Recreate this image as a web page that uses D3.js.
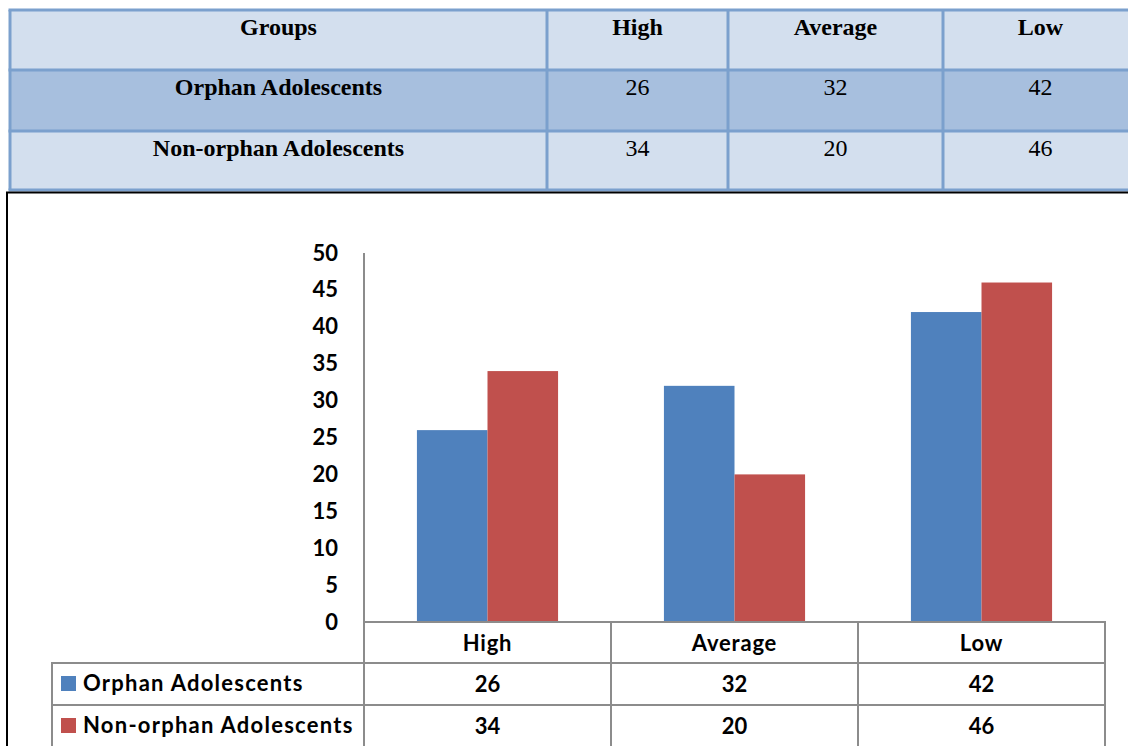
<!DOCTYPE html>
<html>
<head>
<meta charset="utf-8">
<script src="https://cdn.jsdelivr.net/npm/d3@7"></script>
<style>
  html, body { margin: 0; padding: 0; background: #fff; }
  svg { display: block; }
</style>
</head>
<body>
<svg id="chart" width="1128" height="746"></svg>
<script>
// ---- data ----
const categories = ["High", "Average", "Low"];
const seriesNames = ["Orphan Adolescents", "Non-orphan Adolescents"];
const orphanValues = [26, 32, 42];
const nonOrphanValues = [34, 20, 46];
const seriesValues = [orphanValues, nonOrphanValues];
const yTickValues = [0, 5, 10, 15, 20, 25, 30, 35, 40, 45, 50];
const tableHeader = ["Groups", ...categories];

// ---- styling ----
const seriesColors = ["#4f81bd", "#c0504d"];
const serif = "'Liberation Serif', 'Times New Roman', serif";
const sans = "Lato, 'Noto Sans', sans-serif";
const gridGray = "#8c8c8c";

const svg = d3.select("#chart");

// ===== summary table above the chart =====
const colEdges = [10, 547, 728, 943, 1138];
const rowEdges = [10, 70, 131, 190];
const rowFills = ["#d3dfee", "#a7bfde", "#d3dfee"];
const tableRows = [tableHeader].concat(
  seriesNames.map((name, i) => [name, ...seriesValues[i].map(String)])
);

const topTable = svg.append("g").attr("class", "summary-table");
topTable.selectAll("rect.row")
  .data(rowFills)
  .join("rect")
  .attr("class", "row")
  .attr("x", colEdges[0])
  .attr("y", (d, i) => rowEdges[i])
  .attr("width", colEdges[colEdges.length - 1] - colEdges[0])
  .attr("height", (d, i) => rowEdges[i + 1] - rowEdges[i])
  .attr("fill", d => d);

const tBorder = "#7ba0cd";
topTable.selectAll("line.h")
  .data(rowEdges)
  .join("line")
  .attr("class", "h")
  .attr("x1", colEdges[0] - 1.5).attr("x2", 1140)
  .attr("y1", d => d).attr("y2", d => d)
  .attr("stroke", tBorder).attr("stroke-width", 3);
topTable.selectAll("line.v")
  .data(colEdges)
  .join("line")
  .attr("class", "v")
  .attr("y1", rowEdges[0]).attr("y2", rowEdges[rowEdges.length - 1])
  .attr("x1", d => d).attr("x2", d => d)
  .attr("stroke", tBorder).attr("stroke-width", 3);

tableRows.forEach((row, r) => {
  row.forEach((txt, c) => {
    topTable.append("text")
      .attr("x", (colEdges[c] + colEdges[c + 1]) / 2)
      .attr("y", rowEdges[r] + 25)
      .attr("text-anchor", "middle")
      .attr("font-family", serif)
      .attr("font-size", 24)
      .attr("font-weight", (r === 0 || c === 0) ? "bold" : "normal")
      .attr("fill", "#000")
      .text(txt);
  });
});

// ===== chart frame =====
svg.append("path")
  .attr("d", "M7,746 V192.5 H1130")
  .attr("fill", "none")
  .attr("stroke", "#000")
  .attr("stroke-width", 2);

// ===== bar chart =====
const plotLeft = 364, plotRight = 1105, plotTop = 253, plotBottom = 622;
const y = d3.scaleLinear().domain([0, 50]).range([plotBottom, plotTop]);
const x0 = d3.scaleBand().domain(categories).range([plotLeft, plotRight]).padding(0);
const x1 = d3.scaleBand().domain(seriesNames).range([0, x0.bandwidth()])
  .paddingInner(0).paddingOuter(0.75);

const barData = [];
categories.forEach((cat, ci) => {
  seriesNames.forEach((s, si) => {
    barData.push({ cat, series: s, si, value: seriesValues[si][ci] });
  });
});

svg.append("g").attr("class", "bars")
  .selectAll("rect")
  .data(barData)
  .join("rect")
  .attr("x", d => x0(d.cat) + x1(d.series))
  .attr("y", d => y(d.value))
  .attr("width", x1.bandwidth())
  .attr("height", d => y(0) - y(d.value))
  .attr("fill", d => seriesColors[d.si]);

// y axis
const yAxis = svg.append("g")
  .attr("transform", `translate(${plotLeft},0)`)
  .call(d3.axisLeft(y).tickValues(yTickValues).tickSize(0).tickPadding(26));
yAxis.select(".domain").attr("stroke", gridGray).attr("stroke-width", 2)
  .attr("d", `M0,${plotTop}V746`);
yAxis.selectAll("text")
  .attr("font-family", sans)
  .attr("font-size", 22)
  .attr("font-weight", "bold")
  .attr("fill", "#000");

// ===== data table under the axis =====
const rowLines = [plotBottom, 663, 705];
const dt = svg.append("g").attr("class", "data-table");
const legendLeft = 52;

dt.selectAll("line.h")
  .data(rowLines)
  .join("line")
  .attr("class", "h")
  .attr("x1", (d, i) => i === 0 ? plotLeft : legendLeft)
  .attr("x2", plotRight + 1)
  .attr("y1", d => d).attr("y2", d => d)
  .attr("stroke", gridGray).attr("stroke-width", 2);

const vLines = categories.map(c => x0(c) + x0.bandwidth());
dt.selectAll("line.v")
  .data(vLines)
  .join("line")
  .attr("class", "v")
  .attr("x1", d => d).attr("x2", d => d)
  .attr("y1", plotBottom - 1).attr("y2", 746)
  .attr("stroke", gridGray).attr("stroke-width", 2);
dt.append("line")
  .attr("x1", legendLeft).attr("x2", legendLeft)
  .attr("y1", 662).attr("y2", 746)
  .attr("stroke", gridGray).attr("stroke-width", 2);

const cellText = (sel) => sel
  .attr("font-family", sans)
  .attr("font-size", 22)
  .attr("font-weight", "bold")
  .attr("fill", "#000");

// category labels
dt.selectAll("text.cat")
  .data(categories)
  .join("text")
  .attr("class", "cat")
  .attr("x", d => x0(d) + x0.bandwidth() / 2)
  .attr("y", 651)
  .attr("text-anchor", "middle")
  .call(cellText)
  .attr("letter-spacing", 0.8)
  .text(d => d);

// series rows
seriesNames.forEach((name, si) => {
  const base = rowLines[si + 1];
  dt.append("rect")
    .attr("x", 61).attr("y", base + 13)
    .attr("width", 15).attr("height", 15)
    .attr("fill", seriesColors[si]);
  dt.append("text")
    .attr("x", 83).attr("y", base + 28)
    .call(cellText)
    .attr("letter-spacing", 1.25)
    .text(name);
  dt.selectAll(`text.v${si}`)
    .data(seriesValues[si])
    .join("text")
    .attr("class", `v${si}`)
    .attr("x", (d, i) => x0(categories[i]) + x0.bandwidth() / 2)
    .attr("y", base + 29)
    .attr("text-anchor", "middle")
    .call(cellText)
    .text(d => d);
});
</script>
</body>
</html>
